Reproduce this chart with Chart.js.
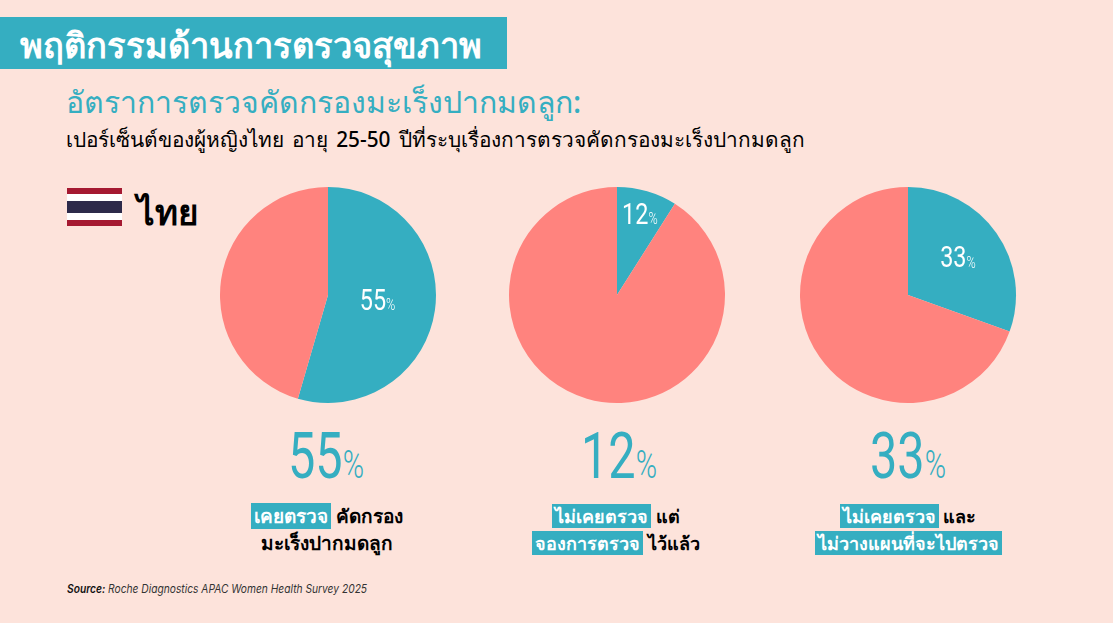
<!DOCTYPE html>
<html lang="th">
<head>
<meta charset="utf-8">
<script src="https://cdn.jsdelivr.net/npm/chart.js@4"></script>
<style>
  html, body { margin: 0; padding: 0; }
  body { width: 1113px; height: 623px; background: #fde3db; position: relative; overflow: hidden; font-family: "Noto Sans", "Inter", sans-serif; color: #000; }
  .abs { position: absolute; white-space: nowrap; }
  #banner { left: 0; top: 17px; width: 507px; height: 52px; background: #35aec1; }
  #title { left: 20px; top: 23px; font-size: 34.5px; line-height: 44px; font-weight: 600; color: #fff; }
  #subtitle { left: 66px; top: 82px; font-size: 30.2px; line-height: 40px; font-weight: 500; color: #35aec1; }
  #desc { left: 66px; top: 125px; font-size: 20.8px; line-height: 28px; font-weight: 500; word-spacing: 2.7px; }
  #flag { left: 67px; top: 188px; width: 55px; height: 38px; background: linear-gradient(#a51931 0 16.6%, #fff 16.6% 33.3%, #2d2a4a 33.3% 66.6%, #fff 66.6% 83.3%, #a51931 83.3%); }
  #country { left: 137px; top: 188px; font-size: 35px; line-height: 48px; font-weight: 700; }
  canvas { position: absolute; top: 185px; }
  .big { top: 421px; width: 220px; text-align: center; color: #35aec1; font-family: Roboto, sans-serif; font-weight: 400; font-size: 64px; line-height: 72px; transform: scaleX(0.76); }
  .big small { font-size: 38px; font-weight: 300; }
  .caption { top: 503px; width: 300px; text-align: center; font-size: 18px; line-height: 27px; font-weight: 600; }
  .caption mark { background: #35aec1; color: #fff; padding: 0 3px; }
  #source { left: 67px; top: 581px; font-size: 11.5px; line-height: 16px; font-style: italic; color: #333; font-family: Inter, sans-serif; transform: scaleX(0.89); transform-origin: left center; }
  #source b { color: #111; font-weight: 600; }
</style>
</head>
<body>
<div class="abs" id="banner"></div>
<div class="abs" id="title">พฤติกรรมด้านการตรวจสุขภาพ</div>
<div class="abs" id="subtitle">อัตราการตรวจคัดกรองมะเร็งปากมดลูก:</div>
<div class="abs" id="desc">เปอร์เซ็นต์ของผู้หญิงไทย อายุ 25-50 ปีที่ระบุเรื่องการตรวจคัดกรองมะเร็งปากมดลูก</div>
<div class="abs" id="flag"></div>
<div class="abs" id="country">ไทย</div>

<canvas id="pie0" width="220" height="220" style="left:218px"></canvas>
<canvas id="pie1" width="220" height="220" style="left:507px"></canvas>
<canvas id="pie2" width="220" height="220" style="left:798px"></canvas>

<div class="abs big" style="left:216px">55<small>%</small></div>
<div class="abs big" style="left:509px">12<small>%</small></div>
<div class="abs big" style="left:798px">33<small>%</small></div>

<div class="abs caption" style="left:177px; font-size:19px"><mark>เคยตรวจ</mark> คัดกรอง<br>มะเร็งปากมดลูก</div>
<div class="abs caption" style="left:466px"><mark>ไม่เคยตรวจ</mark> แต่<br><mark>จองการตรวจ</mark> ไว้แล้ว</div>
<div class="abs caption" style="left:758px"><mark>ไม่เคยตรวจ</mark> และ<br><mark>ไม่วางแผนที่จะไปตรวจ</mark></div>

<div class="abs" id="source"><b>Source:</b> Roche Diagnostics APAC Women Health Survey 2025</div>

<script>
// slice sizes as drawn in the picture (they differ a bit from the printed labels)
const sliceShares = [54.5, 9, 30.5];
const sliceLabels = ['55', '12', '33'];
const categories = ['ตรวจ', 'อื่น ๆ'];

const TEAL = '#35aec1';
const CORAL = '#ff837e';
const labelRadius = [50, 82, 61];

const sliceLabelPlugin = {
    id: 'sliceLabel',
    afterDatasetsDraw(chart, args, opts) {
        const arc = chart.getDatasetMeta(0).data[0];
        const mid = (arc.startAngle + arc.endAngle) / 2;
        const x = arc.x + Math.cos(mid) * opts.radius;
        const y = arc.y + Math.sin(mid) * opts.radius;
        const ctx = chart.ctx;
        ctx.save();
        ctx.translate(x, y);
        ctx.scale(0.78, 1);
        ctx.fillStyle = '#fff';
        ctx.textBaseline = 'middle';
        ctx.font = '400 30px Roboto';
        const w1 = ctx.measureText(opts.text).width;
        ctx.font = '300 16px Roboto';
        const w2 = ctx.measureText('%').width;
        ctx.textAlign = 'left';
        ctx.font = '400 30px Roboto';
        ctx.fillText(opts.text, -(w1 + w2) / 2, 0);
        ctx.font = '300 16px Roboto';
        ctx.fillText('%', -(w1 + w2) / 2 + w1, 4);
        ctx.restore();
    }
};

sliceShares.forEach((share, i) => {
    new Chart(document.getElementById('pie' + i), {
        type: 'pie',
        data: {
            labels: categories,
            datasets: [{
                data: [share, 100 - share],
                backgroundColor: [TEAL, CORAL],
                borderWidth: 0
            }]
        },
        options: {
            responsive: false,
            animation: false,
            radius: 108,
            layout: { padding: 0 },
            plugins: {
                legend: { display: false },
                tooltip: { enabled: false },
                sliceLabel: { text: sliceLabels[i], radius: labelRadius[i] }
            }
        },
        plugins: [sliceLabelPlugin]
    });
});
</script>
</body>
</html>
